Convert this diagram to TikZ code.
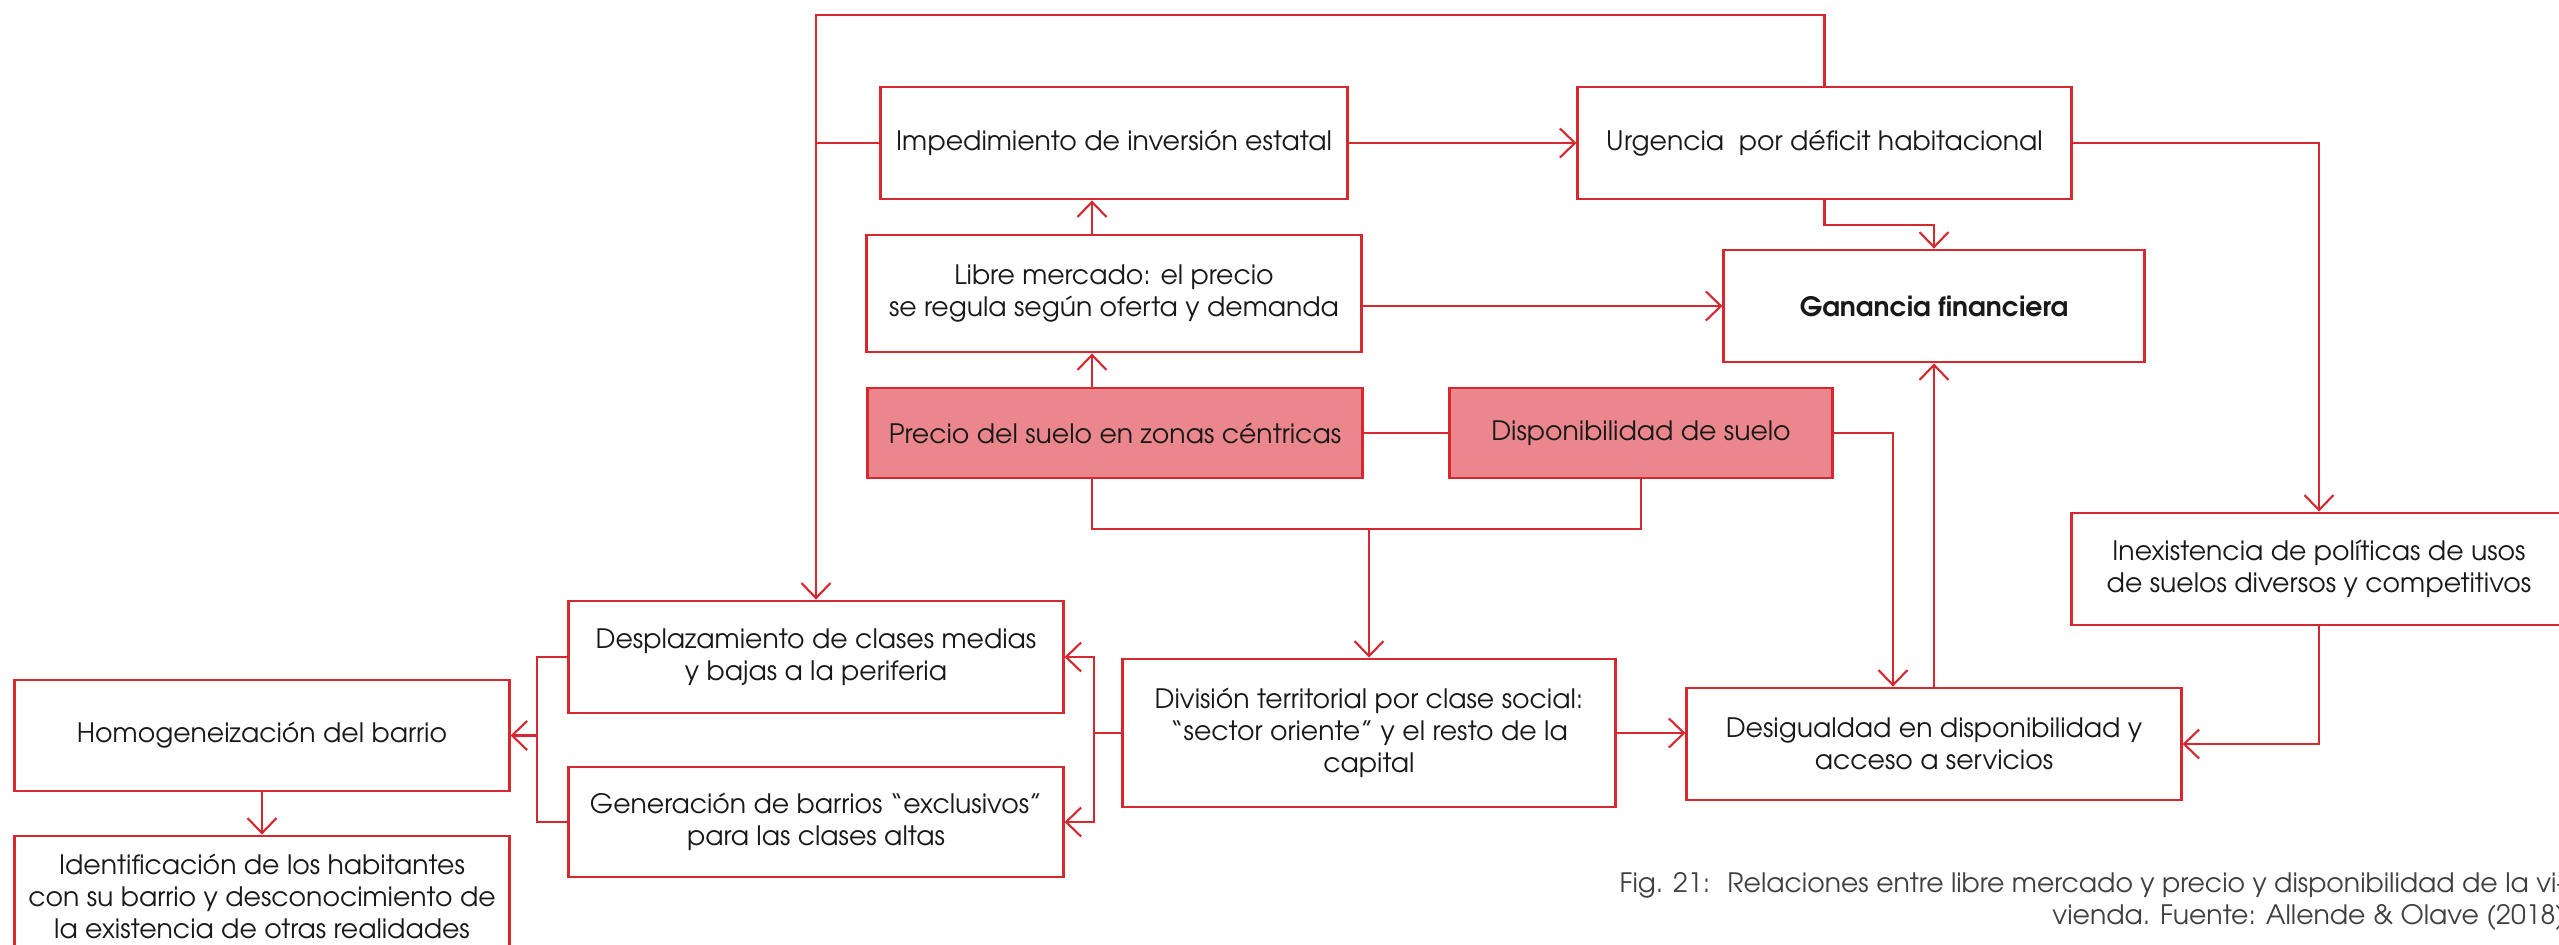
\documentclass[tikz,border=0pt]{standalone}
\usepackage{fontspec}
\setmainfont{texgyreadventor}[Extension=.otf, UprightFont=*-regular, BoldFont=*-bold]
\usetikzlibrary{arrows.meta}
\definecolor{boxred}{RGB}{215,40,48}
\definecolor{boxpink}{RGB}{235,135,140}
\definecolor{capgray}{RGB}{64,64,64}

\begin{document}
\begin{tikzpicture}[x=0.01cm, y=-0.01cm,
        box/.style={draw=boxred, line width=0.8pt, rectangle, align=center, inner sep=0pt,
            minimum width=4.94cm, minimum height=1.12cm, font=\fontsize{7.6}{9.1}\selectfont, text=black!90},
        arr/.style={draw=boxred, line width=0.6pt, -{Straight Barb[length=1.5mm, width=2.9mm]}},
        link/.style={draw=boxred, line width=0.6pt}]
    \useasboundingbox (0,0) rectangle (2559,945);

    \node at (1114,143) [box, minimum width=4.66cm] (imp) {Impedimiento de inversión estatal};
    \node at (1824.5,143) [box, minimum width=4.93cm] (urg) {Urgencia~ por déficit habitacional};
    \node at (1114,293.5) [box, minimum height=1.17cm] (libre) {Libre mercado: el precio\\se regula según oferta y demanda};
    \node at (1934,306) [box, minimum width=4.2cm] (gan) {\textbf{Ganancia financiera}};
    \node at (1115,433) [box, fill=boxpink, minimum height=0.9cm] (precio) {Precio del suelo en zonas céntricas};
    \node at (1641,433) [box, fill=boxpink, minimum width=3.82cm, minimum height=0.9cm] (disp) {Disponibilidad de suelo};
    \node at (2319,569) [box] (inex) {Inexistencia de políticas de usos\\de suelos diversos y competitivos};
    \node at (1934,744) [box] (desig) {Desigualdad en disponibilidad y\\acceso a servicios};
    \node at (1369,733) [box, minimum width=4.92cm, minimum height=1.48cm] (div) {División territorial por clase social:\\“sector oriente” y el resto de la\\capital};
    \node at (816,657) [box] (desp) {Desplazamiento de clases medias\\y bajas a la periferia};
    \node at (816,822) [box, minimum height=1.1cm] (gen) {Generación de barrios “exclusivos”\\para las clases altas};
    \node at (262,735.5) [box, minimum height=1.11cm] (homog) {Homogeneización del barrio};
    \node at (262,896) [box, minimum height=1.2cm] (ident) {Identificación de los habitantes\\con su barrio y desconocimiento de\\la existencia de otras realidades};

    \node at (2566,901) [anchor=east, align=right, inner sep=0pt, text=capgray, font=\fontsize{7.6}{9.1}\selectfont] (cap)
        {Fig. 21:~ Relaciones entre libre mercado y precio y disponibilidad de la vi-\\vienda. Fuente: Allende \& Olave (2018)};

    \coordinate (loop) at (0,15);
    \coordinate (spine) at (1092,0);
    \coordinate (brk) at (0,529);
    \coordinate (forkR) at (1094,0);
    \coordinate (forkL) at (537,0);

    \draw[arr] (urg.north) |- (loop -| desp.north) -- (desp.north);
    \draw[link] (imp.west) -- (imp.west -| desp.north);
    \draw[arr] (imp) -- (urg);
    \draw[arr] (urg.east) -| (inex.north);
    \draw[arr] (urg.south) -- ++(0,25) -| (gan.north);
    \draw[arr] (spine |- libre.north) -- (spine |- imp.south);
    \draw[arr] (libre.east |- gan.west) -- (gan.west);
    \draw[arr] (spine |- precio.north) -- (spine |- libre.south);
    \draw[link] (precio) -- (disp);
    \draw[arr] (disp.east) -| ([xshift=-0.41cm]desig.north);
    \draw[link] (spine |- precio.south) |- (disp.south |- brk) -- (disp.south);
    \draw[arr] (div.north |- brk) -- (div.north);
    \draw[arr] (inex.south) |- (desig.east);
    \draw[arr] (desig.north) -- (gan.south);
    \draw[arr] (div.east) -- (div.east -| desig.west);
    \draw[link] (div.west) -- (forkR |- div.west);
    \draw[arr] (forkR |- div.west) |- (desp.east);
    \draw[arr] (forkR |- div.west) |- (gen.east);
    \draw[link] (desp.west) -| (forkL |- gen.west) -- (gen.west);
    \draw[arr] (forkL |- homog.east) -- (homog.east);
    \draw[arr] (homog) -- (ident);
\end{tikzpicture}
\end{document}
